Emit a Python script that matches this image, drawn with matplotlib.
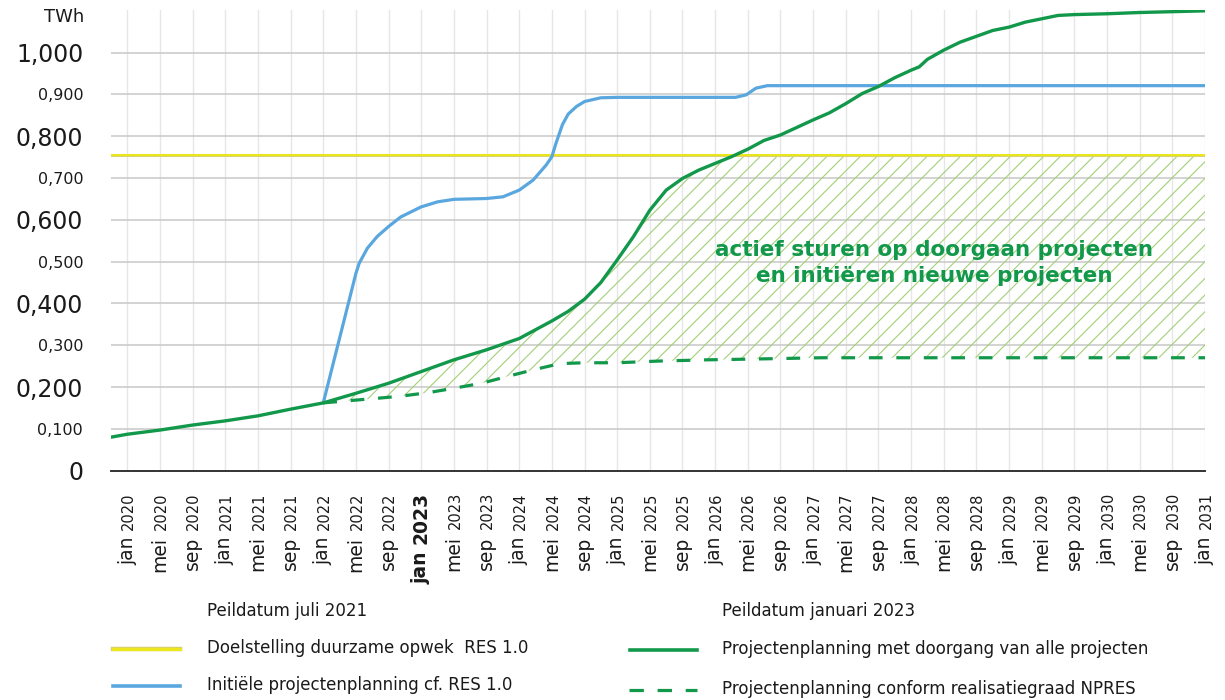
import numpy as np
import matplotlib
matplotlib.use("Agg")
import matplotlib.pyplot as plt
from matplotlib.lines import Line2D
from matplotlib.patches import Rectangle
import matplotlib.patheffects as pe

plt.rcParams['font.family'] = ['DejaVu Sans']
plt.rcParams['hatch.linewidth'] = 0.8

# ---------------- data ----------------
# x = months since jan 2020
tick_months = list(range(0, 133, 4))
tick_month_names = ['jan', 'mei', 'sep'] * 11 + ['jan']
tick_years = [str(2020 + m // 12) for m in tick_months]
bold_tick = 'jan 2023'

y_ticks = [0.0, 0.1, 0.2, 0.3, 0.4, 0.5, 0.6, 0.7, 0.8, 0.9, 1.0]
y_labels = ['0', '0,100', '0,200', '0,300', '0,400', '0,500', '0,600',
            '0,700', '0,800', '0,900', '1,000']

target_value = 0.754  # Doelstelling duurzame opwek RES 1.0

green_m = [-2, 0, 4, 8, 12, 16, 20, 24, 28, 32, 36, 40, 44, 48, 52, 54, 56, 58,
           60, 62, 64, 66, 68, 70, 72, 74, 76, 78, 80, 82, 84, 86, 88, 90, 92,
           94, 96, 97, 98, 100, 102, 104, 106, 108, 110, 112, 114, 116, 120,
           124, 128, 132]
green_v = [0.080, 0.087, 0.097, 0.109, 0.119, 0.131, 0.147, 0.162, 0.185,
           0.209, 0.237, 0.265, 0.289, 0.316, 0.358, 0.381, 0.410, 0.450,
           0.504, 0.560, 0.623, 0.671, 0.699, 0.719, 0.735, 0.751, 0.769,
           0.790, 0.803, 0.821, 0.839, 0.856, 0.878, 0.902, 0.919, 0.940,
           0.958, 0.966, 0.984, 1.006, 1.025, 1.039, 1.053, 1.061, 1.073,
           1.081, 1.089, 1.091, 1.093, 1.096, 1.098, 1.100]

blue_m = [24, 28, 28.4, 29.4, 30.6, 32, 33.5, 36, 38, 40, 44, 46, 48, 49.7,
          51.3, 52, 52.5, 53.3, 54, 55, 56, 58, 60, 74.5, 75.8, 77, 78.4, 132]
blue_v = [0.162, 0.472, 0.496, 0.532, 0.560, 0.584, 0.607, 0.631, 0.643,
          0.649, 0.651, 0.655, 0.671, 0.695, 0.731, 0.751, 0.783, 0.828,
          0.853, 0.871, 0.883, 0.892, 0.893, 0.893, 0.899, 0.915, 0.921, 0.921]

dash_m = [24, 27, 30.6, 33.5, 37, 40, 43.4, 46.5, 49.7, 53, 56, 60, 65, 71,
          77, 85, 100, 116, 132]
dash_v = [0.162, 0.167, 0.173, 0.178, 0.187, 0.197, 0.209, 0.225, 0.241,
          0.256, 0.258, 0.258, 0.262, 0.265, 0.267, 0.270, 0.270, 0.270, 0.270]

# ---------------- style ----------------
C_GREEN = '#12984a'
C_BLUE = '#5aa7df'
C_YELLOW = '#ebe71c'
C_HATCH = '#a3cf78'
C_TEXT = '#1a1a1a'

W, H = 1225, 700
fig = plt.figure(figsize=(W / 100, H / 100), dpi=100)
ax = fig.add_axes([111 / W, 1 - 470.6 / H, 1094 / W, 460.6 / H])

ax.set_xlim(-2, 132)
ax.set_ylim(0, 1.102)

# grid
for m in tick_months:
    ax.axvline(m, color='#e6e6e6', lw=1.0, zorder=0)
for y in y_ticks[1:]:
    ax.axhline(y, color='#c8c8c8', lw=1.1, zorder=0)

for s in ['top', 'right', 'left']:
    ax.spines[s].set_visible(False)
ax.spines['bottom'].set_color('#333333')
ax.spines['bottom'].set_linewidth(1.4)
ax.spines['bottom'].set_zorder(5)

# hatched area between dashed planning and full planning, capped at target
gm = np.array(green_m)
gv = np.array(green_v)
sel = gm >= dash_m[0]
poly_x = np.concatenate([gm[sel], np.array(dash_m)[::-1]])
poly_y = np.concatenate([gv[sel], np.array(dash_v)[::-1]])
fill = ax.fill(poly_x, poly_y, facecolor='none', edgecolor=C_HATCH,
               hatch='//', linewidth=0, zorder=1)[0]
clip = Rectangle((dash_m[0], 0), dash_m[-1] - dash_m[0], target_value,
                 transform=ax.transData)
fill.set_clip_path(clip)

# lines
ax.axhline(target_value, color=C_YELLOW, lw=1.4, zorder=3,
           path_effects=[pe.Stroke(linewidth=2.1, foreground='#d9d16a'), pe.Normal()])
ax.plot(blue_m, blue_v, color=C_BLUE, lw=2.3, zorder=3, solid_capstyle='round',
        solid_joinstyle='round')
ax.plot(green_m, green_v, color=C_GREEN, lw=2.4, zorder=4, solid_capstyle='round',
        solid_joinstyle='round')
ax.plot(dash_m, dash_v, color=C_GREEN, lw=2.3, zorder=4, dashes=(4.3, 4.3))

ax.text(98.8, 0.497, 'actief sturen op doorgaan projecten\nen initiëren nieuwe projecten',
        ha='center', va='center', color=C_GREEN, fontsize=15.5, fontweight='bold',
        linespacing=1.35, zorder=6)

# y ticks
ax.set_yticks(y_ticks)
ax.set_yticklabels(y_labels)
ax.tick_params(axis='y', length=0, pad=20, colors=C_TEXT)
for i, lbl in enumerate(ax.get_yticklabels()):
    lbl.set_fontsize(17 if i % 2 == 0 else 11.5)

# x ticks (custom two-size labels)
ax.set_xticks([])
for m, mon, yr in zip(tick_months, tick_month_names, tick_years):
    bold = (mon + ' ' + yr) == bold_tick
    ysize = 13.5 if bold else 10.5
    msize = 13.5
    fw = 'bold' if bold else 'normal'
    ytxt = ax.annotate(yr, xy=(m, 0), xycoords=('data', 'axes fraction'),
                       xytext=(4, -15.5), textcoords='offset points',
                       rotation=90, rotation_mode='anchor', ha='right',
                       va='baseline', fontsize=ysize, fontweight=fw, color=C_TEXT,
                       annotation_clip=False)
    ax.annotate(mon, xy=(m, 0), xycoords=('data', ytxt),
                xytext=(4, -5), textcoords='offset points',
                rotation=90, rotation_mode='anchor', ha='right',
                va='baseline', fontsize=msize, fontweight=fw, color=C_TEXT,
                annotation_clip=False)

fig.text(84 / W, 1 - 17 / H, 'TWh', ha='right', va='center', fontsize=13, color=C_TEXT)

# legend (manual)
LEG_FS = 12
fig.text(207 / W, 1 - 611 / H, 'Peildatum juli 2021', ha='left', va='center',
         fontsize=LEG_FS, color=C_TEXT)
fig.text(722 / W, 1 - 611 / H, 'Peildatum januari 2023', ha='left', va='center',
         fontsize=LEG_FS, color=C_TEXT)

fig.add_artist(Line2D([113 / W, 180 / W], [1 - 649 / H] * 2, transform=fig.transFigure,
                      color=C_YELLOW, lw=2.2,
                      path_effects=[pe.Stroke(linewidth=3.2, foreground='#d9d16a'), pe.Normal()]))
fig.text(207 / W, 1 - 648 / H, 'Doelstelling duurzame opwek  RES 1.0', ha='left',
         va='center', fontsize=LEG_FS, color=C_TEXT)

fig.add_artist(Line2D([113 / W, 180 / W], [1 - 686 / H] * 2, transform=fig.transFigure,
                      color=C_BLUE, lw=2.6))
fig.text(207 / W, 1 - 685 / H, 'Initiële projectenplanning cf. RES 1.0', ha='left',
         va='center', fontsize=LEG_FS, color=C_TEXT)

fig.add_artist(Line2D([630 / W, 697 / W], [1 - 650 / H] * 2, transform=fig.transFigure,
                      color=C_GREEN, lw=2.6))
fig.text(722 / W, 1 - 649 / H, 'Projectenplanning met doorgang van alle projecten',
         ha='left', va='center', fontsize=LEG_FS, color=C_TEXT)

fig.add_artist(Line2D([629 / W, 697 / W], [1 - 690 / H] * 2, transform=fig.transFigure,
                      color=C_GREEN, lw=2.3, dashes=(4.5, 4.3)))
fig.text(722 / W, 1 - 689 / H, 'Projectenplanning conform realisatiegraad NPRES',
         ha='left', va='center', fontsize=LEG_FS, color=C_TEXT)

fig.savefig('out.png', dpi=100)
